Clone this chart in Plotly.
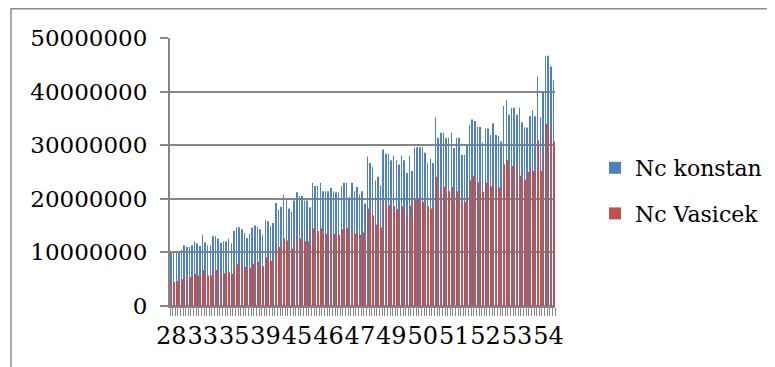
import plotly.graph_objects as go

# Values (each row = one policy/age, in sorted order)
nc_konstan = [
    9.9e6, 9.9e6, 9.9e6, 9.9e6, 10.5e6, 11.35e6, 11.0e6, 11.0e6, 11.35e6, 12.1e6,
    11.7e6, 11.2e6, 13.3e6, 11.9e6, 11.35e6, 11.35e6, 13.0e6, 13.0e6, 12.6e6, 11.8e6,
    12.1e6, 12.1e6, 12.6e6, 11.7e6, 14.0e6, 14.7e6, 14.7e6, 14.3e6, 13.6e6, 12.7e6,
    13.5e6, 14.6e6, 15.0e6, 14.8e6, 14.3e6, 13.3e6, 16.0e6, 15.8e6, 14.9e6, 15.5e6,
    19.2e6, 17.9e6, 18.5e6, 20.7e6, 19.7e6, 18.2e6, 17.6e6, 19.7e6, 21.2e6, 20.5e6,
    20.5e6, 19.7e6, 19.7e6, 18.4e6, 23.0e6, 22.4e6, 22.4e6, 23.0e6, 21.4e6, 21.4e6,
    21.4e6, 22.0e6, 21.4e6, 21.2e6, 21.2e6, 22.4e6, 23.0e6, 23.0e6, 20.3e6, 23.0e6,
    21.4e6,
    22.2e6, 20.8e6, 21.4e6, 19.1e6, 27.9e6, 26.7e6, 25.9e6, 23.4e6, 24.1e6, 22.5e6,
    29.2e6, 28.4e6, 28.4e6, 27.2e6, 28.1e6, 27.2e6, 26.4e6, 28.1e6, 27.2e6, 24.8e6,
    28.1e6, 25.2e6, 29.6e6, 29.6e6, 29.6e6, 29.6e6, 28.6e6, 26.7e6, 27.5e6, 26.7e6,
    35.2e6, 31.4e6, 32.3e6, 32.3e6, 31.4e6, 31.4e6, 32.3e6, 29.5e6, 31.4e6, 31.4e6,
    28.2e6, 28.2e6, 30.0e6, 33.8e6, 34.8e6, 34.5e6, 33.4e6, 33.4e6, 30.5e6, 33.1e6,
    33.1e6, 31.9e6, 34.1e6, 31.9e6, 31.7e6, 30.7e6, 37.3e6, 38.5e6, 35.7e6, 37.0e6,
    37.0e6, 35.7e6, 37.0e6, 34.3e6, 33.3e6, 33.3e6, 35.4e6, 36.5e6, 35.4e6, 42.8e6,
    35.2e6, 40.0e6, 46.7e6, 46.7e6, 44.7e6, 42.1e6,
]

nc_vasicek = [
    4.5e6, 4.5e6, 4.65e6, 4.65e6, 5.0e6, 5.6e6, 5.4e6, 5.4e6, 5.6e6, 6.0e6,
    5.7e6, 5.5e6, 6.7e6, 6.0e6, 5.7e6, 5.7e6, 6.7e6, 6.7e6, 6.4e6, 6.0e6,
    6.1e6, 6.1e6, 6.4e6, 6.0e6, 7.2e6, 7.8e6, 7.8e6, 7.5e6, 7.3e6, 6.7e6,
    7.2e6, 7.9e6, 8.25e6, 8.25e6, 8.1e6, 7.4e6, 9.1e6, 8.9e6, 8.4e6, 9.0e6,
    11.35e6, 11.0e6, 10.7e6, 12.6e6, 12.2e6, 11.0e6, 10.7e6, 12.3e6, 13.0e6, 12.6e6,
    12.6e6, 12.1e6, 12.1e6, 11.2e6, 14.5e6, 14.0e6, 14.0e6, 14.5e6, 13.5e6, 13.5e6,
    13.5e6, 13.8e6, 13.5e6, 13.3e6, 13.3e6, 14.3e6, 14.6e6, 14.6e6, 12.9e6, 14.6e6,
    13.5e6,
    14.1e6, 13.3e6, 13.7e6, 12.3e6, 18.2e6, 17.4e6, 16.9e6, 15.2e6, 15.7e6, 14.6e6,
    19.4e6, 18.8e6, 18.8e6, 18.1e6, 18.6e6, 18.1e6, 17.5e6, 18.6e6, 18.1e6, 16.4e6,
    18.7e6, 16.8e6, 19.9e6, 19.9e6, 19.9e6, 19.4e6, 18.0e6, 18.6e6, 18.2e6, 18.0e6,
    24.1e6, 21.4e6, 22.2e6, 22.2e6, 21.4e6, 21.4e6, 22.2e6, 19.4e6, 21.4e6, 21.4e6,
    19.4e6, 19.4e6, 20.7e6, 23.4e6, 24.2e6, 23.9e6, 23.1e6, 23.1e6, 21.3e6, 23.0e6,
    23.0e6, 22.3e6, 23.7e6, 22.3e6, 22.1e6, 21.4e6, 26.4e6, 27.3e6, 25.3e6, 26.1e6,
    26.1e6, 26.1e6, 24.3e6, 23.6e6, 23.6e6, 25.0e6, 25.8e6, 25.2e6, 25.0e6, 30.9e6,
    25.2e6, 28.6e6, 34.0e6, 34.0e6, 32.8e6, 30.7e6,
]

# Visible category (age) labels, shown every 12th category
age_labels = ["28", "33", "35", "39", "45", "46", "47", "49", "50", "51", "52", "53", "54"]
label_step = 12

y_ticks = [0, 10000000, 20000000, 30000000, 40000000, 50000000]
y_ticktext = ["0", "10000000", "20000000", "30000000", "40000000", "50000000"]

n = len(nc_konstan)
x = list(range(n))
tick_pos = [i * label_step for i in range(len(age_labels))]

FONT = "DejaVu Serif"
GRID = "#868686"

fig = go.Figure()
fig.add_trace(go.Bar(x=x, y=nc_konstan, name="Nc konstan", marker_color="#4F81BD",
                     marker_line_width=0, legendgroup="a"))
fig.add_trace(go.Bar(x=x, y=nc_vasicek, name="Nc Vasicek", marker_color="#C0504D",
                     marker_line_width=0, legendgroup="b"))

# page body has an 8px margin: work in screen pixels, convert to figure pixels
OFF = 8
W, H = 775 - OFF, 367 - OFF
L, R, T, B = 170 - OFF, 775 - 555, 38 - OFF, 367 - 306
pw = W - L - R
ph = H - T - B

def px_x(p):
    return (p - OFF - L) / pw

def px_y(p):
    return (H - B - (p - OFF)) / ph

fig.update_layout(
    width=W, height=H, autosize=False,
    margin=dict(l=L, r=R, t=T, b=B, pad=0, autoexpand=False),
    barmode="group", bargap=0.6, bargroupgap=0,
    plot_bgcolor="white", paper_bgcolor="white",
    font=dict(family=FONT, size=23, color="black"),
    legend=dict(x=px_x(595), xanchor="left", y=px_y(147), yanchor="top",
                traceorder="grouped", tracegroupgap=14, itemwidth=30,
                font=dict(family=FONT, size=22, color="black"),
                bgcolor="rgba(0,0,0,0)"),
    xaxis=dict(range=[-0.5, n - 0.5], tickmode="array", tickvals=tick_pos, ticktext=age_labels,
               ticks="", showgrid=False, zeroline=False, tickangle=0, automargin=False,
               showline=True, linecolor=GRID, linewidth=1.5,
               ticklabelstandoff=7,
               tickfont=dict(family=FONT, size=24, color="black"),
               minor=dict(ticks="outside", ticklen=8, tickcolor=GRID, tickwidth=1,
                          tickmode="linear", tick0=-0.5, dtick=1, showgrid=False)),
    yaxis=dict(range=[0, 50000000], tickmode="array", tickvals=y_ticks, ticktext=y_ticktext,
               ticks="outside", ticklen=8, tickcolor=GRID, tickwidth=1.5, automargin=False,
               showgrid=True, gridcolor=GRID, gridwidth=2,
               zeroline=True, zerolinecolor=GRID, zerolinewidth=2,
               showline=True, linecolor=GRID, linewidth=2,
               ticklabelstandoff=8,
               tickfont=dict(family=FONT, size=23, color="black")),
    shapes=[dict(type="rect", xref="paper", yref="paper",
                 x0=px_x(11), x1=px_x(800), y0=px_y(400), y1=px_y(8.8),
                 line=dict(color="#8c8c8c", width=1.5), fillcolor="rgba(0,0,0,0)",
                 layer="below")],
)

fig.write_html("out.html")
